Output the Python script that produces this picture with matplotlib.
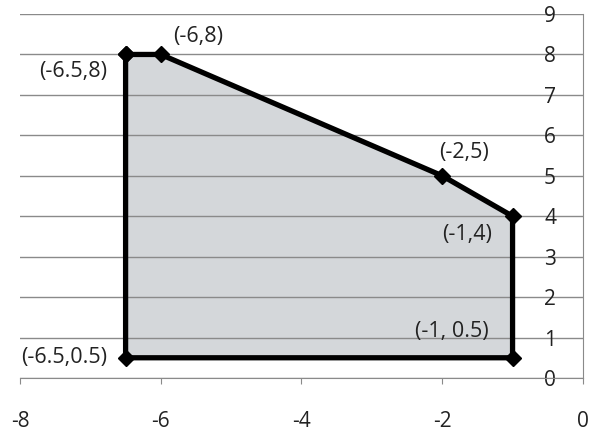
import matplotlib.pyplot as plt

# polygon vertices, in drawing order
xs = [-6.5, -6, -2, -1, -1, -6.5]
ys = [8, 8, 5, 4, 0.5, 0.5]
labels = ["(-6.5,8)", "(-6,8)", "(-2,5)", "(-1,4)", "(-1, 0.5)", "(-6.5,0.5)"]
# label offsets in points (dx, dy)
offsets = [(-38, -12), (27, 13), (16, 17), (-33, -13), (-44, 19), (-44, 0)]

x_ticks = [-8, -6, -4, -2, 0]
y_ticks = list(range(10))

plt.rcParams["font.family"] = ["Open Sans", "DejaVu Sans"]
plt.rcParams["axes.unicode_minus"] = False

fs = 15.5
tfs = 15
txt = "#222222"

fig = plt.figure(figsize=(5.9, 4.38), dpi=100)
ax = fig.add_axes([0.034, 0.137, 0.954, 0.831])

ax.fill(xs, ys, color="#d4d7da", zorder=0.4)
ax.plot(xs + xs[:1], ys + ys[:1], color="black", lw=3.8, marker="D", ms=8,
        solid_joinstyle="miter", zorder=3)

for x, y, t, (dx, dy) in zip(xs, ys, labels, offsets):
    ax.annotate(t, (x, y), xytext=(dx, dy), textcoords="offset points",
                ha="center", va="center", fontsize=fs, color=txt)

ax.set_xlim(-8, 0)
ax.set_ylim(0, 9)
ax.set_xticks(x_ticks)
ax.set_yticks(y_ticks)

ax.grid(axis="y", color="#8a8a8a", lw=1)
ax.set_axisbelow(True)

for s in ["top", "left"]:
    ax.spines[s].set_visible(False)
ax.spines["bottom"].set_color("#8a8a8a")
ax.spines["right"].set_color("#8a8a8a")

ax.yaxis.tick_right()
ax.tick_params(axis="y", length=0, pad=-28, labelsize=tfs, labelcolor=txt)
for lab in ax.get_yticklabels():
    lab.set_horizontalalignment("left")
ax.tick_params(axis="x", length=4, color="#8a8a8a", pad=20, labelsize=tfs,
               labelcolor=txt)

fig.savefig("out.png")
